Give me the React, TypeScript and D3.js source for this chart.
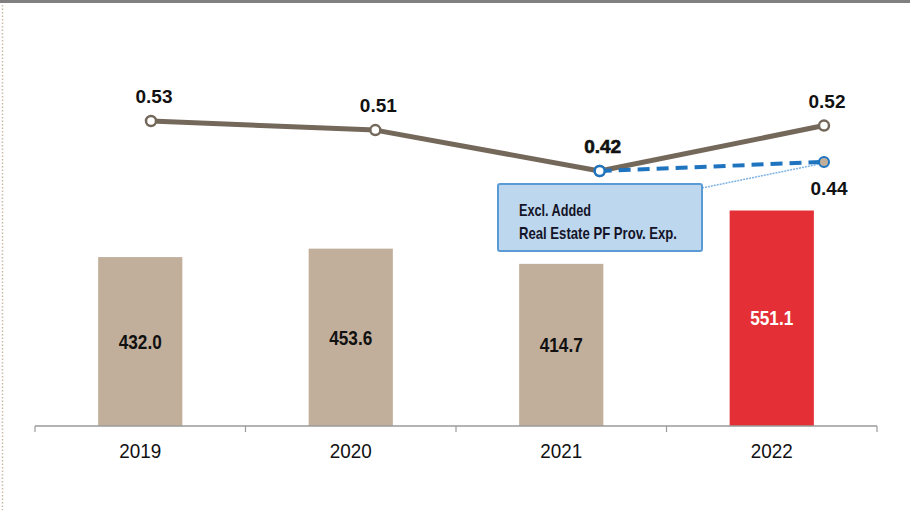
import React from "react";
import * as d3 from "d3";

const years = ["2019", "2020", "2021", "2022"];
const amounts = [432.0, 453.6, 414.7, 551.1];
const amountLabels = ["432.0", "453.6", "414.7", "551.1"];
const ratios = [0.53, 0.51, 0.42, 0.52];
const ratioLabels = ["0.53", "0.51", "0.42", "0.52"];
const adjYears = ["2021", "2022"];
const adjRatios = [0.42, 0.44];
const adjLabel = "0.44";
const calloutLines = ["Excl. Added", "Real Estate PF Prov. Exp."];

const W = 910;
const H = 510;
const calloutWidths = [72, 158];

export default function App() {
  const x = d3.scaleBand<string>().domain(years).range([35, 877]).paddingInner(0).paddingOuter(0);
  const bw = x.bandwidth() * 0.4;
  const y = d3.scaleLinear().domain([0, 1089.5]).range([426, 0]);
  const xl = d3.scalePoint<string>().domain(years).range([151, 824]);
  const yl = d3.scaleLinear().domain([0, 0.8]).range([361.9, -1.7]);

  const line = d3.line<number>().x((_, i) => xl(years[i])!).y((d) => yl(d));
  const adjLine = d3.line<number>().x((_, i) => xl(adjYears[i])!).y((d) => yl(d));

  const ticks = [...years.map((yr) => x(yr)!), 877];
  const brown = "#74685a";
  const blue = "#1f74c0";
  const end = { x: xl("2022")!, y: yl(0.44) };

  return (
    <svg width={W} height={H} style={{ position: "absolute", left: 0, top: 0 }} fontFamily="Arial, 'Liberation Sans', sans-serif">
      <rect x={0} y={0} width={W} height={3} fill="#808080" />
      <line x1={2.5} y1={5} x2={2.5} y2={H} stroke="#c9b9a3" strokeWidth={1.5} strokeDasharray="1.5 2" />

      {years.map((yr, i) => (
        <rect key={yr} x={x(yr)! + (x.bandwidth() - bw) / 2} y={y(amounts[i])} width={bw} height={426 - y(amounts[i])}
          fill={i === 3 ? "#e52f36" : "#c1af9b"} />
      ))}
      {years.map((yr, i) => (
        <text key={"l" + yr}
          transform={`translate(${x(yr)! + x.bandwidth() / 2},${(y(amounts[i]) + y(0)) / 2}) scale(0.86,1)`}
          dy="0.36em" textAnchor="middle"
          fontSize={20} fontWeight="bold" fill={i === 3 ? "#ffffff" : "#111111"}>
          {amountLabels[i]}
        </text>
      ))}

      <line x1={35} x2={877} y1={426} y2={426} stroke="#9a9a9a" strokeWidth={1.5} />
      {ticks.map((t, i) => (
        <line key={"t" + i} x1={t} x2={t} y1={426} y2={432} stroke="#9a9a9a" strokeWidth={1.2} />
      ))}
      {years.map((yr) => (
        <text key={"x" + yr} transform={`translate(${x(yr)! + x.bandwidth() / 2},458) scale(0.9,1)`} textAnchor="middle" fontSize={21} fill="#111111">
          {yr}
        </text>
      ))}

      <path d={line(ratios)!} fill="none" stroke={brown} strokeWidth={5} strokeLinejoin="round" />
      {ratios.map((r, i) => (
        <circle key={"c" + i} cx={xl(years[i])!} cy={yl(r)} r={5} fill="#fff" stroke={brown} strokeWidth={2.5} />
      ))}
      {ratios.map((r, i) => (
        <text key={"rl" + i} x={xl(years[i])! + 3} y={yl(r) - 18} textAnchor="middle" fontSize={19} fontWeight="bold" fill="#111111"
          stroke={i === 2 ? "#111111" : "none"} strokeWidth={i === 2 ? 0.6 : 0}>
          {ratioLabels[i]}
        </text>
      ))}

      <line x1={702} y1={188} x2={end.x - 4} y2={end.y + 2} stroke="#7fb3e2" strokeWidth={1.5} strokeDasharray="2 1" />
      <path d={adjLine(adjRatios)!} fill="none" stroke={blue} strokeWidth={4} strokeDasharray="12 7" />
      <circle cx={xl("2021")!} cy={yl(0.42)} r={5} fill="#fff" stroke={blue} strokeWidth={2.5} />
      <circle cx={end.x} cy={end.y} r={5} fill="#c1af9b" stroke={blue} strokeWidth={2} />
      <text x={end.x + 5} y={end.y + 33} textAnchor="middle" fontSize={19} fontWeight="bold" fill="#111111">{adjLabel}</text>

      <rect x={498} y={184} width={204} height={67} rx={2} fill="#bdd7ee" stroke="#5b9bd5" strokeWidth={2} />
      {calloutLines.map((t, i) => (
        <text key={"co" + i} x={519} y={216 + i * 23} fontSize={17} fontWeight="bold" fill="#141428"
          textLength={calloutWidths[i]} lengthAdjust="spacingAndGlyphs">
          {t}
        </text>
      ))}
    </svg>
  );
}
